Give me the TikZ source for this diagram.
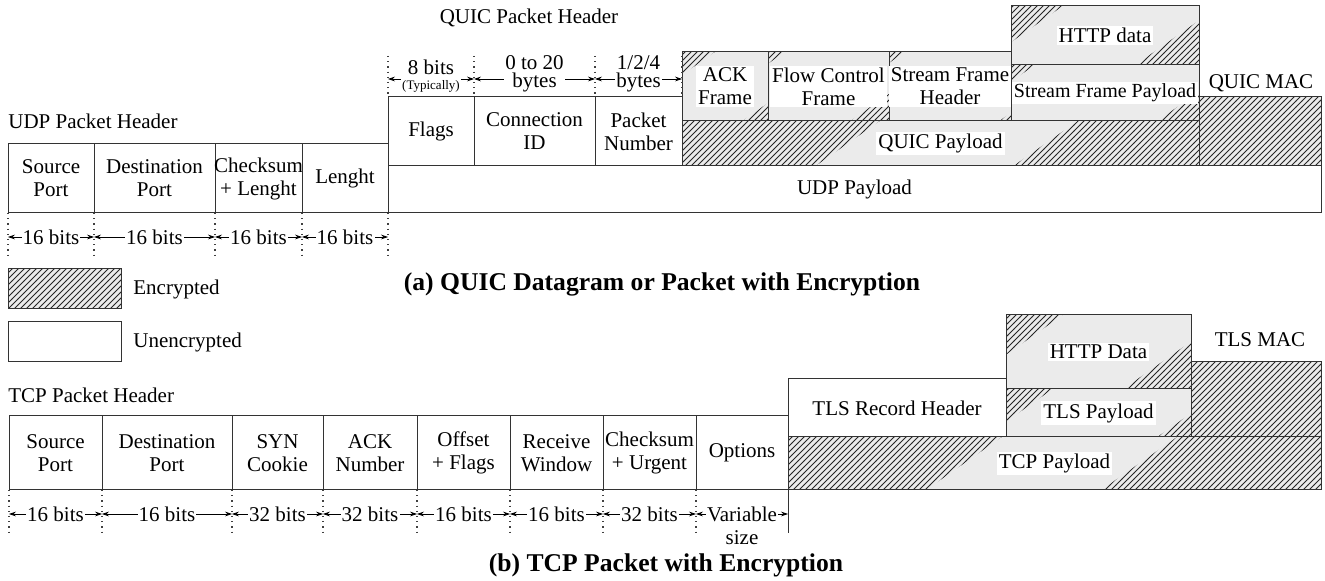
\documentclass[tikz,border=0pt]{standalone}
\usepackage{fontspec}
\setmainfont{Liberation Serif}
\usetikzlibrary{patterns,arrows.meta}

\tikzset{
	boxline/.style={draw=black!80, line width=0.5pt},
	encfill/.style={fill=black!8},
	hatch/.style={pattern=north east lines, pattern color=black!85},
	fieldtext/.style={align=center, font=\fontsize{10.5}{11.5}\selectfont, inner sep=1pt},
	enctext/.style={fieldtext, fill=white},
	title/.style={font=\fontsize{10.5}{12}\selectfont, inner sep=1pt},
	caption/.style={font=\fontsize{12.8}{14}\selectfont\bfseries},
	guide/.style={dotted, line width=0.6pt, black!75},
	dim/.style={{Stealth[length=3.5pt,width=2.4pt]}-{Stealth[length=3.5pt,width=2.4pt]}, line width=0.4pt},
	dimtext/.style={fill=white, inner sep=0.6pt, align=center, font=\fontsize{10.5}{9}\selectfont},
}

% plain field: name, x1, y1, x2, y2, text
\newcommand{\field}[6]{%
	\draw[boxline, fill=white] (#2,#3) rectangle (#4,#5);
	\node[fieldtext] (#1) at ({(#2+#4)/2},{(#3+#5)/2}) {#6};
}
% encrypted field: name, x1, y1, x2, y2, hatch corner left, hatch corner right, text
\newcommand{\encfield}[8]{%
	\fill[encfill] (#2,#3) rectangle (#4,#5);
	\fill[hatch] (#2,#3) rectangle (#4,#5);
	\begin{scope}
		\clip (#2,#3) rectangle (#4,#5);
		\fill[encfill] (#2+#6,#3) -- (#4,#3) -- (#4,#5-0.7*#7) -- (#4-#7,#5) -- (#2,#5) -- (#2,#3+0.7*#6) -- cycle;
	\end{scope}
	\draw[boxline] (#2,#3) rectangle (#4,#5);
	\node[enctext] (#1) at ({(#2+#4)/2},{(#3+#5)/2}) {#8};
}

\begin{document}
\begin{tikzpicture}[x=0.5pt, y=-0.5pt]
	\useasboundingbox (0,0) rectangle (1325,581);
	
	% Header titles
	\node[title, anchor=west] (udptitle) at (6,121) {UDP Packet Header};
	\node[title] (quictitle) at (529,18) {QUIC Packet Header};
	\node[title, anchor=west] (tcptitle) at (6,395) {TCP Packet Header};
	
	% (a) UDP header
	\field{udpsrc}{8}{144}{94}{213}{Source\\Port}
	\field{udpdst}{94}{144}{215}{213}{Destination\\Port}
	\field{udpsum}{215}{144}{302}{213}{Checksum\\+ Lenght}
	\field{udplen}{302}{144}{388}{213}{Lenght}
	\field{udppay}{388}{166}{1321}{213}{UDP Payload}
	
	% QUIC header
	\field{flags}{388}{97}{474}{166}{Flags}
	\field{connid}{474}{97}{595}{166}{Connection\\ID}
	\field{pktnum}{595}{97}{682}{166}{Packet\\Number}
	
	% QUIC payload and frames
	\encfield{quicpay}{682}{121}{1199}{166}{198}{186}{QUIC Payload}
	\encfield{ackframe}{682}{52}{768}{121}{33}{26}{ACK\\Frame}
	\encfield{flowframe}{768}{52}{889}{121}{17}{39}{Flow Control\\Frame}
	\encfield{sfheader}{889}{52}{1011}{121}{16}{12}{Stream Frame\\Header}
	\encfield{sfpayload}{1011}{65}{1199}{121}{24}{42}{\fontsize{10}{11}\selectfont Stream Frame Payload}
	\encfield{httpquic}{1011}{6}{1199}{65}{52}{64}{HTTP data}
	
	% QUIC MAC
	\fill[encfill] (1199,97) rectangle (1321,166);
	\fill[hatch] (1199,97) rectangle (1321,166);
	\draw[boxline] (1199,97) rectangle (1321,166);
	\node[title] (quicmac) at (1261,83) {QUIC MAC};
	
	% UDP field sizes
	\foreach \x [count=\i] in {8,94,215,302,388} {
		\draw[guide] (\x,213) -- (\x,255);
		\coordinate (u\i) at (\x,237);
	}
	\draw[dim] (u1) -- node[dimtext] {16 bits} (u2);
	\draw[dim] (u2) -- node[dimtext] {16 bits} (u3);
	\draw[dim] (u3) -- node[dimtext] {16 bits} (u4);
	\draw[dim] (u4) -- node[dimtext] {16 bits} (u5);
	
	% QUIC field sizes
	\foreach \x [count=\i] in {388,474,595,682} {
		\draw[guide] (\x,56) -- (\x,97);
		\coordinate (q\i) at (\x,79);
	}
	\draw[dim] (q1) -- node[dimtext, yshift=1.5pt] {8 bits\\[-1.5pt]{\fontsize{6.5}{6}\selectfont(Typically)}} (q2);
	\draw[dim] (q2) -- node[dimtext, yshift=2.5pt] {0 to 20\\bytes} (q3);
	\draw[dim] (q3) -- node[dimtext, yshift=2.5pt] {1/2/4\\bytes} (q4);
	
	% Legend
	\fill[encfill] (8,269) rectangle (121,309);
	\fill[hatch] (8,269) rectangle (121,309);
	\draw[boxline] (8,269) rectangle (121,309);
	\node[title, anchor=west] (encleg) at (131,289) {Encrypted};
	\draw[boxline] (8,322) rectangle (121,362);
	\node[title, anchor=west] (unencleg) at (131,342) {Unencrypted};
	
	\node[caption] (capa) at (662,284) {(a) QUIC Datagram or Packet with Encryption};
	
	% (b) TCP header
	\field{tcpsrc}{9}{416}{102}{490}{Source\\Port}
	\field{tcpdst}{102}{416}{232}{490}{Destination\\Port}
	\field{syncookie}{232}{416}{323}{490}{SYN\\Cookie}
	\field{acknum}{323}{416}{417}{490}{ACK\\Number}
	\field{offset}{417}{416}{510}{490}{Offset\\+ Flags}
	\field{window}{510}{416}{603}{490}{Receive\\Window}
	\field{tcpsum}{603}{416}{696}{490}{Checksum\\+ Urgent}
	\field{options}{696}{416}{788}{490}{Options}
	
	% TLS record
	\encfield{tcppay}{788}{437}{1321}{490}{214}{220}{TCP Payload}
	\field{tlshead}{788}{379}{1006}{437}{TLS Record Header}
	\encfield{tlspay}{1006}{389}{1191}{437}{47}{34}{TLS Payload}
	\encfield{httptls}{1006}{315}{1191}{389}{57}{68}{HTTP Data}
	
	% TLS MAC
	\fill[encfill] (1191,362) rectangle (1321,437);
	\fill[hatch] (1191,362) rectangle (1321,437);
	\draw[boxline] (1191,362) rectangle (1321,437);
	\node[title] (tlsmac) at (1260,340) {TLS MAC};
	
	% TCP field sizes
	\foreach \x [count=\i] in {9,102,232,323,417,510,603,696} {
		\draw[guide] (\x,490) -- (\x,533);
		\coordinate (t\i) at (\x,514);
	}
	\draw[boxline] (788,437) -- (788,533);
	\coordinate (t9) at (788,514);
	\draw[dim] (t1) -- node[dimtext] {16 bits} (t2);
	\draw[dim] (t2) -- node[dimtext] {16 bits} (t3);
	\draw[dim] (t3) -- node[dimtext] {32 bits} (t4);
	\draw[dim] (t4) -- node[dimtext] {32 bits} (t5);
	\draw[dim] (t5) -- node[dimtext] {16 bits} (t6);
	\draw[dim] (t6) -- node[dimtext] {16 bits} (t7);
	\draw[dim] (t7) -- node[dimtext] {32 bits} (t8);
	\draw[dim] (t8) -- node[dimtext] (varsize) {Variable} (t9);
	\node[title] (sizetext) at (742,538) {size};
	
	\node[caption] (capb) at (666,565) {(b) TCP Packet with Encryption};
\end{tikzpicture}
\end{document}
